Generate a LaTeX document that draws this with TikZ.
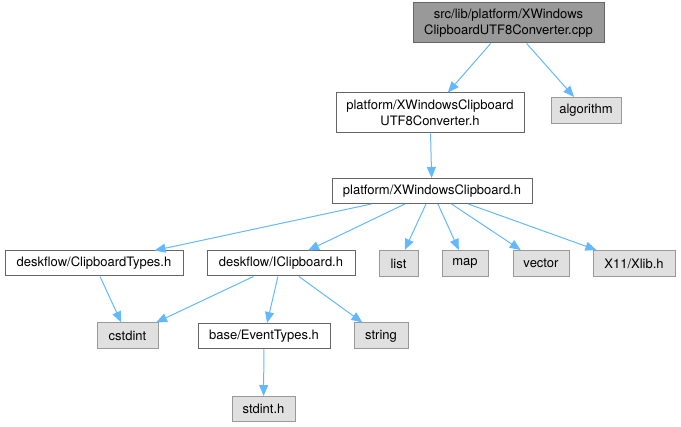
\documentclass[tikz,border=0pt]{standalone}
\usepackage{fontspec}
\setmainfont{TeX Gyre Heros}
\usetikzlibrary{arrows.meta}

\definecolor{edgeblue}{HTML}{63B8FF}
\definecolor{boxline}{HTML}{666666}
\definecolor{sysline}{HTML}{999999}
\definecolor{sysfill}{HTML}{E0E0E0}
\definecolor{rootfill}{HTML}{999999}

\begin{document}
\begin{tikzpicture}[
	x=1pt, y=-1pt,
	font=\fontsize{13}{15.5}\selectfont,
	hdr/.style={ draw=boxline, fill=white, line width=1pt, inner sep=0pt, minimum height=25pt, align=center },
	sys/.style={ draw=sysline, fill=sysfill, line width=1pt, inner sep=0pt, minimum height=26pt },
	rootfile/.style={ draw=boxline, fill=rootfill, line width=1pt, inner sep=0pt, minimum height=40pt, align=center },
	inc/.style={ draw=edgeblue, line width=1pt, -{Triangle[length=11pt,width=9pt,fill=edgeblue]} }
]
\useasboundingbox (0,0) rectangle (681,427);

% source file and its direct includes
\node at (508.5,23) (src) [rootfile,minimum width=191pt] {src/lib/platform/XWindows\\ClipboardUTF8Converter.cpp};
\node at (430,113) (conv) [hdr,minimum width=188pt,minimum height=40pt] {platform/XWindowsClipboard\\UTF8Converter.h};
\node at (586,110.5) (algo) [sys,minimum width=70pt] {algorithm};
\draw[inc] (src) to (conv);
\draw[inc] (src) to (algo);

% clipboard header
\node at (432,191) (xwc) [hdr,minimum width=200pt] {platform/XWindowsClipboard.h};
\draw[inc] (conv) to (xwc);

% includes of the clipboard header
\node at (94,263.5) (cbtypes) [hdr,minimum width=178pt] {deskflow/ClipboardTypes.h};
\node at (281,263.5) (iclip) [hdr,minimum width=148pt] {deskflow/IClipboard.h};
\node at (398.5,263.5) (list) [sys,minimum width=39pt] {list};
\node at (465,263.5) (map) [sys,minimum width=46pt] {map};
\node at (541,263.5) (vector) [sys,minimum width=56pt] {vector};
\node at (634,263.5) (xlib) [sys,minimum width=82pt] {X11/Xlib.h};
\foreach \p in {cbtypes,iclip,list,map,vector,xlib} \draw[inc] (xwc) to (\p);

% lower level
\node at (127.5,336) (cstdint) [sys,minimum width=61pt] {cstdint};
\node at (264,336) (evtypes) [hdr,minimum width=132pt] {base/EventTypes.h};
\node at (381,336) (string) [sys,minimum width=54pt] {string};
\draw[inc] (cbtypes) to (cstdint);
\foreach \p in {cstdint,evtypes,string} \draw[inc] (iclip) to (\p);

\node at (263.5,409) (stdinth) [sys,minimum width=63pt,minimum height=25pt] {stdint.h};
\draw[inc] (evtypes) to (stdinth);

\end{tikzpicture}
\end{document}
